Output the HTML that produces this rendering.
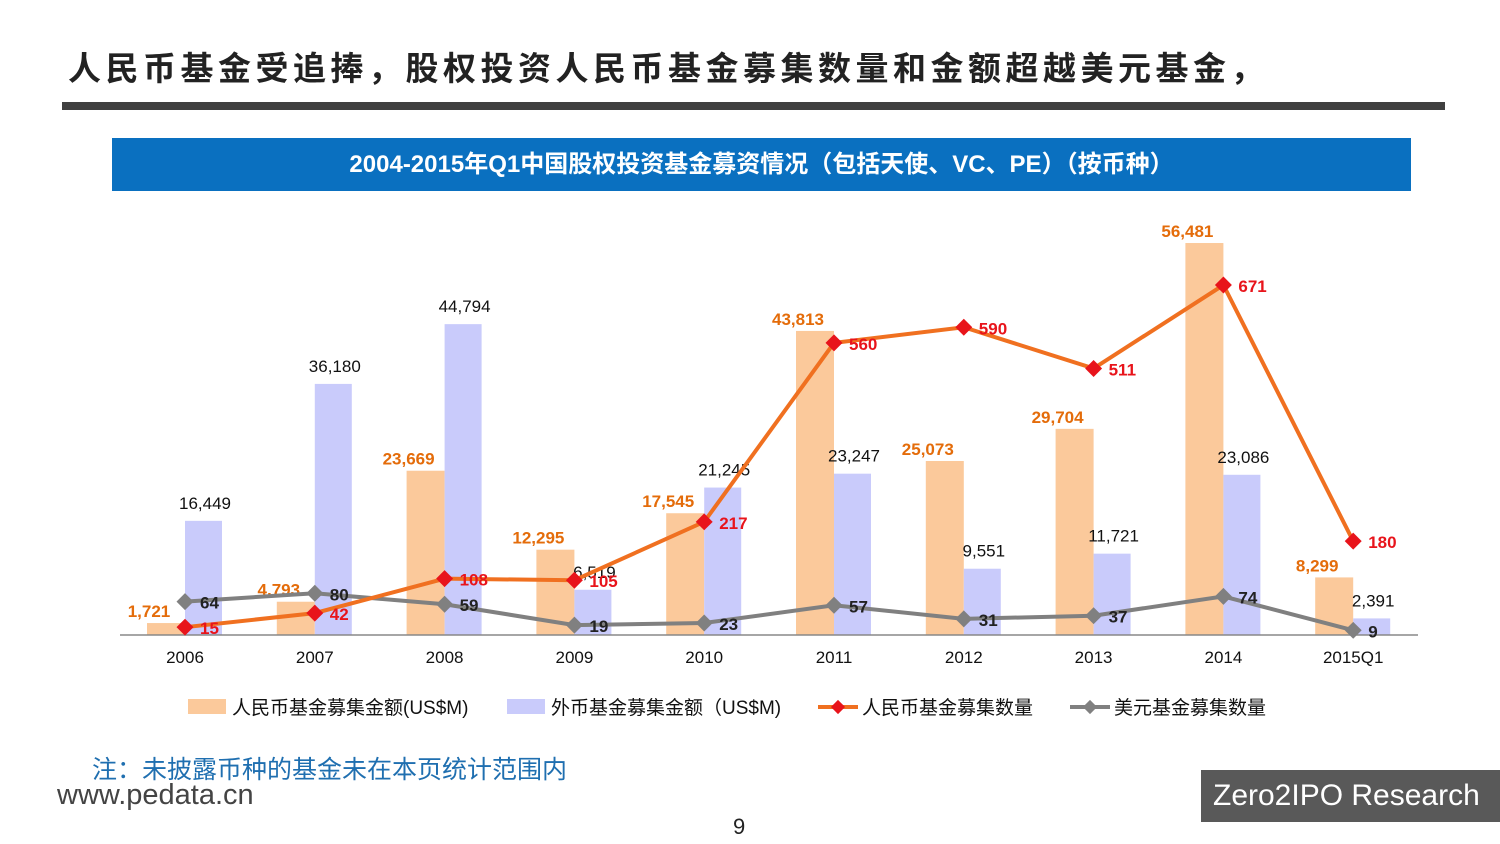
<!DOCTYPE html>
<html><head><meta charset="utf-8">
<style>
body{margin:0;width:1500px;height:844px;background:#fff;position:relative;overflow:hidden;font-family:"Liberation Sans","Noto Sans CJK SC",sans-serif}
.abs{position:absolute}
</style></head><body>
<div class="abs" style="left:68px;top:42px;font-size:33px;font-weight:bold;color:#222;letter-spacing:4.5px;white-space:nowrap">人民币基金受追捧，股权投资人民币基金募集数量和金额超越美元基金，</div>
<div class="abs" style="left:62px;top:102px;width:1383px;height:8px;background:#404040"></div>
<div class="abs" style="left:112px;top:138px;width:1299px;height:53px;background:#0A70C0;color:#fff;font-size:24px;font-weight:bold;text-align:center;line-height:53px;white-space:nowrap">2004-2015年Q1中国股权投资基金募资情况（包括天使、VC、PE）（按币种）</div>
<svg class="abs" style="left:0;top:0" width="1500" height="844">
<g id="g"></g>
</svg>
<div class="abs" style="left:92px;top:750px;font-size:25px;color:#1F6FB0">注：未披露币种的基金未在本页统计范围内</div>
<div class="abs" style="left:57px;top:779px;font-size:29px;color:#444">www.pedata.cn</div>
<div class="abs" style="left:1201px;top:770px;width:299px;height:52px;background:#595959;color:#fff;font-size:30px;line-height:52px;padding-left:12px;box-sizing:border-box;font-weight:300">Zero2IPO Research</div>
<div class="abs" style="left:733px;top:814px;font-size:22px;color:#222">9</div>
<script>
const categories=["2006","2007","2008","2009","2010","2011","2012","2013","2014","2015Q1"];
const rmbAmount=[1721,4793,23669,12295,17545,43813,25073,29704,56481,8299];
const fxAmount=[16449,36180,44794,6519,21245,23247,9551,11721,23086,2391];
const rmbCount=[15,42,108,105,217,560,590,511,671,180];
const usdCount=[64,80,59,19,23,57,31,37,74,9];
const legendLabels=["人民币基金募集金额(US$M)","外币基金募集金额（US$M)","人民币基金募集数量","美元基金募集数量"];
const NS="http://www.w3.org/2000/svg";
const g=document.getElementById('g');
const base=635;
const xC=i=>185+i*129.8;
const yA=v=>base-v*0.00694;
const yN=v=>base-v*0.5216;
const fmt=v=>v.toLocaleString('en-US');
function mk(t,a,txt){const e=document.createElementNS(NS,t);for(const k in a)e.setAttribute(k,a[k]);if(txt!==undefined)e.textContent=txt;g.appendChild(e);return e;}
rmbAmount.forEach((v,i)=>{
 const r=mk('rect',{x:xC(i)-38,y:yA(v),width:38,height:base-yA(v),fill:'#FBC99B'});
 
 
 const t=mk('text',{x:xC(i)-36,y:yA(v)-6,'text-anchor':'middle','font-size':17,'font-weight':'bold',fill:'#E46C0A'},fmt(v));
 
 
});
fxAmount.forEach((v,i)=>{
 const r=mk('rect',{x:xC(i),y:yA(v),width:37,height:base-yA(v),fill:'#C9CBFB'});
 
 
 const t=mk('text',{x:xC(i)+20,y:yA(v)-12,'text-anchor':'middle','font-size':17,fill:'#111'},fmt(v));
 
 
});
const ax=mk('line',{x1:120,x2:1418,y1:base,y2:base,stroke:'#888','stroke-width':1.5});


categories.forEach((c,i)=>{
 const t=mk('text',{x:xC(i),y:663,'text-anchor':'middle','font-size':17,fill:'#111'},c);
 
 
});
function series(vals,color,lblColor,name){
 const p=mk('polyline',{points:vals.map((v,i)=>xC(i)+','+yN(v)).join(' '),fill:'none',stroke:color,'stroke-width':4});
 
 
 vals.forEach((v,i)=>{
  const x=xC(i),y=yN(v);
  const d=mk('rect',{x:x-6,y:y-6,width:12,height:12,fill:color==='#F07020'?'#E8141B':color,transform:`rotate(45 ${x} ${y})`});
  
  
  const t=mk('text',{x:x+15,y:y+7,'font-size':17,'font-weight':'bold',fill:lblColor},v);
  
  
 });
}
series(usdCount,'#808080','#222','usd-count');
series(rmbCount,'#F07020','#E8141B','rmb-count');
const lx=[188,507,818,1070];
const lg=[['rect','#FBC99B'],['rect','#C9CBFB'],['line','#F07020'],['line','#808080']];
legendLabels.forEach((l,i)=>{
 let m;
 if(lg[i][0]==='rect'){m=mk('rect',{x:lx[i],y:699,width:38,height:15,fill:lg[i][1]});}
 else{m=mk('line',{x1:lx[i],x2:lx[i]+40,y1:707,y2:707,stroke:lg[i][1],'stroke-width':4});
  const dd=mk('rect',{x:lx[i]+15,y:702,width:10,height:10,fill:i===2?'#E8141B':'#808080',transform:`rotate(45 ${lx[i]+20} 707)`});
  }
 
 
 const t=mk('text',{x:lx[i]+44,y:714,'font-size':19,fill:'#111'},l);
 
 
});
</script>
</body></html>
